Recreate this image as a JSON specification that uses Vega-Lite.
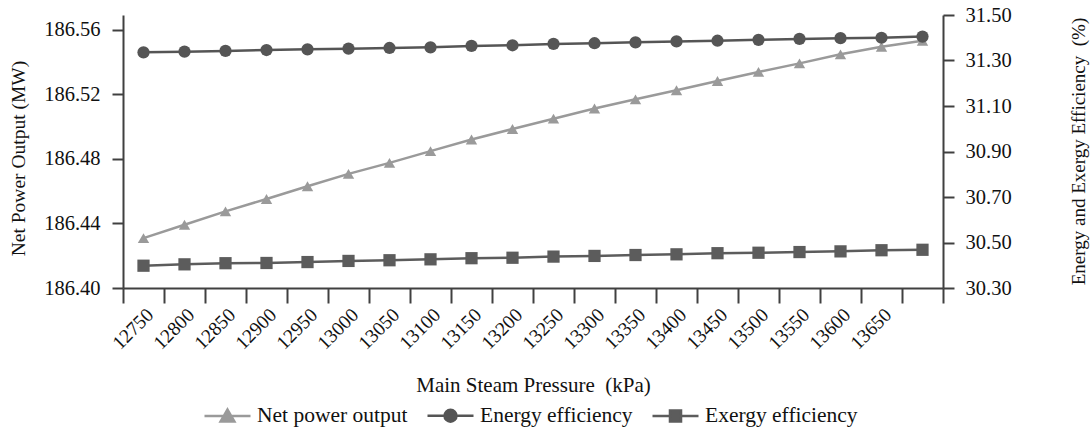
{
  "$schema": "https://vega.github.io/schema/vega-lite/v6.json",
  "width": 820,
  "height": 273,
  "autosize": {"type": "none"},
  "padding": {"left": 123, "top": 15, "right": 149, "bottom": 144},
  "background": "white",
  "config": {
    "view": {"stroke": null},
    "font": "Liberation Serif",
    "axis": {
      "grid": false,
      "domainColor": "#404040",
      "domainWidth": 2,
      "tickColor": "#404040",
      "tickWidth": 2,
      "labelFont": "Liberation Serif",
      "labelFontSize": 20,
      "labelColor": "#111",
      "titleFont": "Liberation Serif",
      "titleFontSize": 20,
      "titleFontWeight": "normal",
      "titleColor": "#111"
    }
  },
  "data": {
    "values": [
      {"pressure": 12750, "series": "Net power output", "value": 186.4309},
      {"pressure": 12800, "series": "Net power output", "value": 186.4392},
      {"pressure": 12850, "series": "Net power output", "value": 186.4475},
      {"pressure": 12900, "series": "Net power output", "value": 186.4552},
      {"pressure": 12950, "series": "Net power output", "value": 186.4631},
      {"pressure": 13000, "series": "Net power output", "value": 186.4708},
      {"pressure": 13050, "series": "Net power output", "value": 186.4776},
      {"pressure": 13100, "series": "Net power output", "value": 186.4849},
      {"pressure": 13150, "series": "Net power output", "value": 186.4921},
      {"pressure": 13200, "series": "Net power output", "value": 186.4986},
      {"pressure": 13250, "series": "Net power output", "value": 186.5050},
      {"pressure": 13300, "series": "Net power output", "value": 186.5113},
      {"pressure": 13350, "series": "Net power output", "value": 186.5170},
      {"pressure": 13400, "series": "Net power output", "value": 186.5226},
      {"pressure": 13450, "series": "Net power output", "value": 186.5284},
      {"pressure": 13500, "series": "Net power output", "value": 186.5340},
      {"pressure": 13550, "series": "Net power output", "value": 186.5393},
      {"pressure": 13600, "series": "Net power output", "value": 186.5449},
      {"pressure": 13650, "series": "Net power output", "value": 186.5496},
      {"pressure": 13700, "series": "Net power output", "value": 186.5533},
      {"pressure": 12750, "series": "Energy efficiency", "value": 31.336},
      {"pressure": 12800, "series": "Energy efficiency", "value": 31.339},
      {"pressure": 12850, "series": "Energy efficiency", "value": 31.342},
      {"pressure": 12900, "series": "Energy efficiency", "value": 31.346},
      {"pressure": 12950, "series": "Energy efficiency", "value": 31.349},
      {"pressure": 13000, "series": "Energy efficiency", "value": 31.352},
      {"pressure": 13050, "series": "Energy efficiency", "value": 31.355},
      {"pressure": 13100, "series": "Energy efficiency", "value": 31.358},
      {"pressure": 13150, "series": "Energy efficiency", "value": 31.364},
      {"pressure": 13200, "series": "Energy efficiency", "value": 31.367},
      {"pressure": 13250, "series": "Energy efficiency", "value": 31.373},
      {"pressure": 13300, "series": "Energy efficiency", "value": 31.376},
      {"pressure": 13350, "series": "Energy efficiency", "value": 31.380},
      {"pressure": 13400, "series": "Energy efficiency", "value": 31.384},
      {"pressure": 13450, "series": "Energy efficiency", "value": 31.387},
      {"pressure": 13500, "series": "Energy efficiency", "value": 31.391},
      {"pressure": 13550, "series": "Energy efficiency", "value": 31.395},
      {"pressure": 13600, "series": "Energy efficiency", "value": 31.398},
      {"pressure": 13650, "series": "Energy efficiency", "value": 31.400},
      {"pressure": 13700, "series": "Energy efficiency", "value": 31.405},
      {"pressure": 12750, "series": "Exergy efficiency", "value": 30.398},
      {"pressure": 12800, "series": "Exergy efficiency", "value": 30.404},
      {"pressure": 12850, "series": "Exergy efficiency", "value": 30.409},
      {"pressure": 12900, "series": "Exergy efficiency", "value": 30.410},
      {"pressure": 12950, "series": "Exergy efficiency", "value": 30.414},
      {"pressure": 13000, "series": "Exergy efficiency", "value": 30.419},
      {"pressure": 13050, "series": "Exergy efficiency", "value": 30.422},
      {"pressure": 13100, "series": "Exergy efficiency", "value": 30.426},
      {"pressure": 13150, "series": "Exergy efficiency", "value": 30.431},
      {"pressure": 13200, "series": "Exergy efficiency", "value": 30.433},
      {"pressure": 13250, "series": "Exergy efficiency", "value": 30.438},
      {"pressure": 13300, "series": "Exergy efficiency", "value": 30.441},
      {"pressure": 13350, "series": "Exergy efficiency", "value": 30.445},
      {"pressure": 13400, "series": "Exergy efficiency", "value": 30.448},
      {"pressure": 13450, "series": "Exergy efficiency", "value": 30.453},
      {"pressure": 13500, "series": "Exergy efficiency", "value": 30.455},
      {"pressure": 13550, "series": "Exergy efficiency", "value": 30.458},
      {"pressure": 13600, "series": "Exergy efficiency", "value": 30.461},
      {"pressure": 13650, "series": "Exergy efficiency", "value": 30.466},
      {"pressure": 13700, "series": "Exergy efficiency", "value": 30.468}
    ]
  },
  "encoding": {
    "x": {
      "field": "pressure",
      "type": "ordinal",
      "bandPosition": 0.5,
      "scale": {"type": "band", "paddingInner": 0, "paddingOuter": 0},
      "axis": {
        "title": "Main Steam Pressure \u00a0(kPa)",
        "titleX": 410,
        "titleY": 97,
        "titleFontSize": 21,
        "titleBaseline": "middle",
        "labelAngle": -45,
        "labelFontSize": 19.5,
        "tickBand": "extent",
        "tickSize": 15,
        "labelPadding": 2,
        "labelExpr": "datum.value == 13700 ? '' : datum.label"
      }
    },
    "color": {
      "field": "series",
      "type": "nominal",
      "scale": {
        "domain": ["Net power output", "Energy efficiency", "Exergy efficiency"],
        "range": ["#9a9a9a", "#555555", "#5c5c5c"]
      },
      "legend": {
        "orient": "none",
        "legendX": 80,
        "legendY": 376,
        "direction": "horizontal",
        "title": null,
        "symbolSize": 2116,
        "labelFont": "Liberation Serif",
        "labelFontSize": 21.5,
        "labelColor": "#111",
        "labelOffset": 5,
        "columnPadding": 14,
        "encode": {
          "symbols": {
            "update": {
              "shape": {"signal": "datum.value == 'Net power output' ? 'M-1,0H1M0,-0.28L0.3,0.24L-0.3,0.24Z' : (datum.value == 'Energy efficiency' ? 'M-1,0H1M0.26,0A0.26,0.26 0 1,1 -0.26,0A0.26,0.26 0 1,1 0.26,0Z' : 'M-1,0H1M-0.24,-0.24H0.24V0.24H-0.24Z')"},
              "fill": {"signal": "datum.value == 'Net power output' ? '#8e8e8e' : '#555555'"},
              "stroke": {"signal": "datum.value == 'Net power output' ? '#9a9a9a' : '#555555'"},
              "strokeWidth": {"value": 2.5},
              "opacity": {"value": 1},
              "fillOpacity": {"value": 1},
              "strokeOpacity": {"value": 1}
            }
          }
        }
      }
    }
  },
  "layer": [
    {
      "transform": [{"filter": "datum.series == 'Net power output'"}],
      "encoding": {
        "y": {
          "field": "value",
          "type": "quantitative",
          "scale": {"domain": [186.40, 186.5693], "nice": false, "zero": false},
          "axis": {
            "title": "Net Power Output (MW)",
            "values": [186.40, 186.44, 186.48, 186.52, 186.56],
            "format": ".2f",
            "tickSize": 11,
            "labelPadding": 12,
            "labelFontSize": 20.5,
            "titleFontSize": 19.5,
            "titleX": -105,
            "titleY": 143,
            "titleAngle": -90,
            "titleAlign": "center",
            "titleBaseline": "middle"
          }
        }
      },
      "layer": [
        {"mark": {"type": "line", "strokeWidth": 2.5}},
        {
          "mark": {"type": "point", "filled": true, "size": 130, "opacity": 1, "shape": "triangle-up", "color": "#8e8e8e"}
        }
      ]
    },
    {
      "transform": [{"filter": "datum.series != 'Net power output'"}],
      "encoding": {
        "y": {
          "field": "value",
          "type": "quantitative",
          "scale": {"domain": [30.30, 31.50], "nice": false, "zero": false},
          "axis": {
            "orient": "right",
            "title": "Energy and Exergy Efficiency \u00a0(%)",
            "values": [30.3, 30.5, 30.7, 30.9, 31.1, 31.3, 31.5],
            "format": ".2f",
            "tickSize": 11,
            "labelPadding": 11,
            "labelFontSize": 20.5,
            "titleX": 135,
            "titleY": 136,
            "titleFontSize": 19,
            "titleAngle": -90,
            "titleAlign": "center",
            "titleBaseline": "middle"
          }
        }
      },
      "layer": [
        {"mark": {"type": "line", "strokeWidth": 2.5}},
        {
          "mark": {"type": "point", "filled": true, "size": 150, "opacity": 1},
          "encoding": {
            "shape": {
              "field": "series",
              "type": "nominal",
              "scale": {"domain": ["Energy efficiency", "Exergy efficiency"], "range": ["circle", "square"]},
              "legend": null
            }
          }
        }
      ]
    }
  ],
  "resolve": {"scale": {"y": "independent", "shape": "independent"}}
}
